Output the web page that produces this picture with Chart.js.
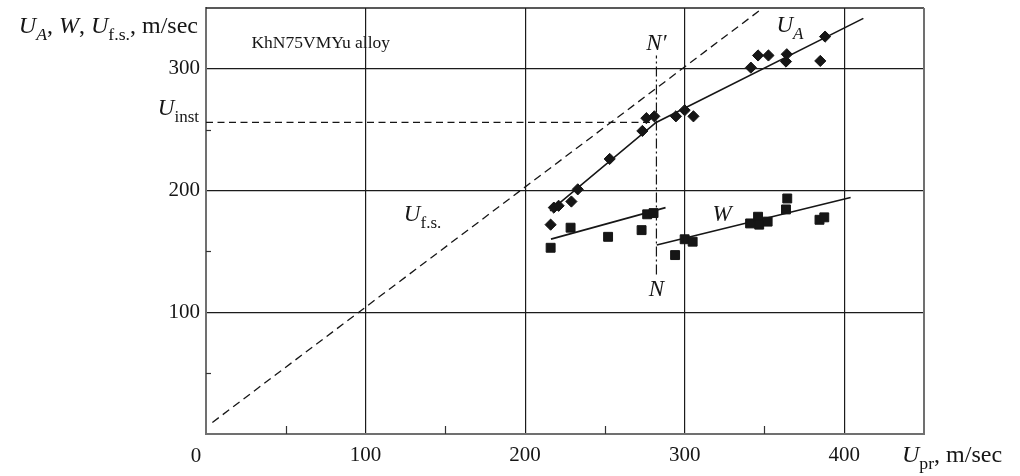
<!DOCTYPE html>
<html>
<head>
<meta charset="utf-8">
<script src="https://cdn.jsdelivr.net/npm/chart.js@4.4.1/dist/chart.umd.min.js"></script>
<style>
  html, body { margin: 0; padding: 0; background: #fff; }
  #wrap { width: 1020px; height: 476px; }
</style>
</head>
<body>
<div id="wrap"><canvas id="chart" width="1020" height="476"></canvas></div>
<script>
// U_A measurements (diamonds)
const uaX = [216, 218, 221, 229, 233, 253, 273.5, 276, 281, 294.5, 300, 305.5, 341.5, 346, 352.5, 363.5, 364, 385, 388];
const uaY = [172, 186, 187.5, 191, 201, 226, 249, 259.5, 261, 261, 266, 261, 301, 311, 311, 306, 312, 306.5, 326.5];
// W measurements (squares)
const wX = [216, 228.5, 252, 273, 276.5, 280.5, 294, 300, 305, 341, 346, 346.7, 352, 363.5, 364.3, 384.5, 387.5];
const wY = [153, 169.5, 162, 167.5, 180.5, 181.5, 147, 160, 158, 173, 178.5, 172, 174.5, 184.5, 193.5, 176, 178];
// fitted lines
const uaFitX = [215.7, 282.1, 412];
const uaFitY = [183.3, 256, 341.5];
const wFit1X = [216.2, 288];
const wFit1Y = [160.1, 186];
const wFit2X = [282.5, 404];
const wFit2Y = [155.3, 194.3];
// free-surface velocity, instability level, N-N' boundary
const ufsX = [4, 347];
const ufsY = [9.5, 348];
const uInst = 256;
const nX = [282.3, 282.3];
const nY = [131, 311];

const xTicks = [100, 200, 300, 400];
const yTicks = [100, 200, 300];
const xMinor = [50, 150, 250, 350];
const yMinor = [50, 150, 250];

const SERIF = '"Liberation Serif", "DejaVu Serif", serif';
const INK = '#161616';

function pts(xs, ys) {
    return xs.map((x, i) => ({ x: x, y: ys[i] }));
}

// parts: [text, italic, subscript]
function richText(ctx, parts, x, y, align, size) {
    const fonts = parts.map(p => (p[1] ? 'italic ' : '') + (p[2] ? size * 0.74 : size) + 'px ' + SERIF);
    let w = 0;
    parts.forEach((p, i) => { ctx.font = fonts[i]; w += ctx.measureText(p[0]).width; });
    let cx = align === 'right' ? x - w : (align === 'center' ? x - w / 2 : x);
    ctx.textAlign = 'left';
    ctx.textBaseline = 'alphabetic';
    parts.forEach((p, i) => {
        ctx.font = fonts[i];
        ctx.fillText(p[0], cx, p[2] ? y + size * 0.3 : y);
        cx += ctx.measureText(p[0]).width;
    });
}

const annotate = {
    id: 'annotate',
    afterDraw(chart) {
        const ctx = chart.ctx;
        const a = chart.chartArea;
        const xs = chart.scales.x;
        const ys = chart.scales.y;
        ctx.save();

        // top and right frame
        ctx.strokeStyle = '#222';
        ctx.lineWidth = 1.5;
        ctx.beginPath();
        ctx.moveTo(a.left, a.top);
        ctx.lineTo(a.right, a.top);
        ctx.stroke();
        ctx.strokeStyle = '#707070';
        ctx.lineWidth = 2;
        ctx.beginPath();
        ctx.moveTo(a.right, a.top);
        ctx.lineTo(a.right, a.bottom + 1);
        ctx.stroke();

        // inward minor ticks
        ctx.strokeStyle = '#333';
        ctx.lineWidth = 1.2;
        xMinor.forEach(v => {
            const px = Math.round(xs.getPixelForValue(v)) + 0.5;
            ctx.beginPath();
            ctx.moveTo(px, a.bottom);
            ctx.lineTo(px, a.bottom - 8);
            ctx.stroke();
        });
        yMinor.forEach(v => {
            const py = Math.round(ys.getPixelForValue(v)) + 0.5;
            ctx.beginPath();
            ctx.moveTo(a.left, py);
            ctx.lineTo(a.left + 5, py);
            ctx.stroke();
        });

        ctx.fillStyle = INK;
        // shared origin label
        ctx.font = '21px ' + SERIF;
        ctx.textAlign = 'center';
        ctx.textBaseline = 'alphabetic';
        ctx.fillText('0', xs.getPixelForValue(0) - 10, 462);

        // axis titles
        richText(ctx, [['U', true], ['A', true, true], [', ', false], ['W', true], [', ', false],
            ['U', true], ['f.s.', false, true], [', m/sec', false]], 198, 33, 'right', 24);
        richText(ctx, [['U', true], ['pr', false, true], [', m/sec', false]], 902, 462, 'left', 24);
        richText(ctx, [['U', true], ['inst', false, true]], 199, ys.getPixelForValue(uInst) - 7, 'right', 23);

        // in-plot labels
        ctx.font = '17.5px ' + SERIF;
        ctx.textAlign = 'left';
        ctx.textBaseline = 'middle';
        ctx.fillText('KhN75VMYu alloy', xs.getPixelForValue(28.5), ys.getPixelForValue(321));

        richText(ctx, [['N\u2032', true]], xs.getPixelForValue(282.3), ys.getPixelForValue(311) - 5, 'center', 23);
        richText(ctx, [['N', true]], xs.getPixelForValue(282.3), ys.getPixelForValue(131) + 21, 'center', 23);
        richText(ctx, [['U', true], ['A', true, true]], xs.getPixelForValue(357.5), ys.getPixelForValue(330), 'left', 23);
        richText(ctx, [['W', true]], xs.getPixelForValue(317.5), ys.getPixelForValue(175), 'left', 23);
        richText(ctx, [['U', true], ['f.s.', false, true]], xs.getPixelForValue(124), ys.getPixelForValue(175), 'left', 23);

        ctx.restore();
    }
};

function lineSet(xs, ys, dash, width) {
    return {
        data: pts(xs, ys),
        showLine: true,
        pointRadius: 0,
        borderColor: INK,
        borderWidth: width,
        borderDash: dash,
        fill: false,
        order: 2
    };
}

new Chart(document.getElementById('chart'), {
    type: 'scatter',
    data: {
        datasets: [
            {
                label: 'U_A',
                data: pts(uaX, uaY),
                pointStyle: 'rectRot',
                pointRadius: 5.6,
                backgroundColor: INK,
                borderColor: INK,
                borderWidth: 1,
                order: 0
            },
            {
                label: 'W',
                data: pts(wX, wY),
                pointStyle: 'rect',
                pointRadius: 6.3,
                backgroundColor: INK,
                borderColor: INK,
                borderWidth: 1,
                order: 0
            },
            lineSet(uaFitX, uaFitY, [], 1.6),
            lineSet(wFit1X, wFit1Y, [], 1.6),
            lineSet(wFit2X, wFit2Y, [], 1.6),
            lineSet(ufsX, ufsY, [8, 5], 1.3),
            lineSet([0, nX[0]], [uInst, uInst], [7, 4.5], 1.3),
            lineSet(nX, nY, [10, 3, 2, 3], 1.2)
        ]
    },
    options: {
        responsive: false,
        devicePixelRatio: 1,
        animation: false,
        layout: { padding: { top: 8, right: 96, left: 0, bottom: 0 } },
        plugins: {
            legend: { display: false },
            tooltip: { enabled: false }
        },
        scales: {
            x: {
                type: 'linear',
                min: 0,
                max: 450,
                afterFit: function(scale) {
                    scale.height = 42;
                    scale.paddingLeft = 0;
                    scale.paddingRight = 0;
                },
                border: { display: true, color: '#707070', width: 2 },
                grid: {
                    drawTicks: false,
                    lineWidth: 1.2,
                    color: function(ctx) {
                        const v = ctx.tick ? ctx.tick.value : -1;
                        return xTicks.includes(v) ? '#1b1b1b' : 'rgba(0,0,0,0)';
                    }
                },
                ticks: {
                    stepSize: 50,
                    padding: 9,
                    maxRotation: 0,
                    autoSkip: false,
                    color: INK,
                    font: { family: SERIF, size: 21 },
                    callback: function(value) { return xTicks.includes(value) ? String(value) : ''; }
                }
            },
            y: {
                type: 'linear',
                min: 0,
                max: 350,
                afterFit: function(scale) {
                    scale.width = 206;
                    scale.paddingTop = 0;
                    scale.paddingBottom = 0;
                },
                border: { display: true, color: '#707070', width: 2 },
                grid: {
                    drawTicks: false,
                    lineWidth: 1.2,
                    color: function(ctx) {
                        const v = ctx.tick ? ctx.tick.value : -1;
                        return yTicks.includes(v) ? '#1b1b1b' : 'rgba(0,0,0,0)';
                    }
                },
                ticks: {
                    stepSize: 50,
                    padding: 6,
                    autoSkip: false,
                    color: INK,
                    font: { family: SERIF, size: 21 },
                    callback: function(value) { return yTicks.includes(value) ? String(value) : ''; }
                }
            }
        }
    },
    plugins: [annotate]
});
</script>
</body>
</html>
